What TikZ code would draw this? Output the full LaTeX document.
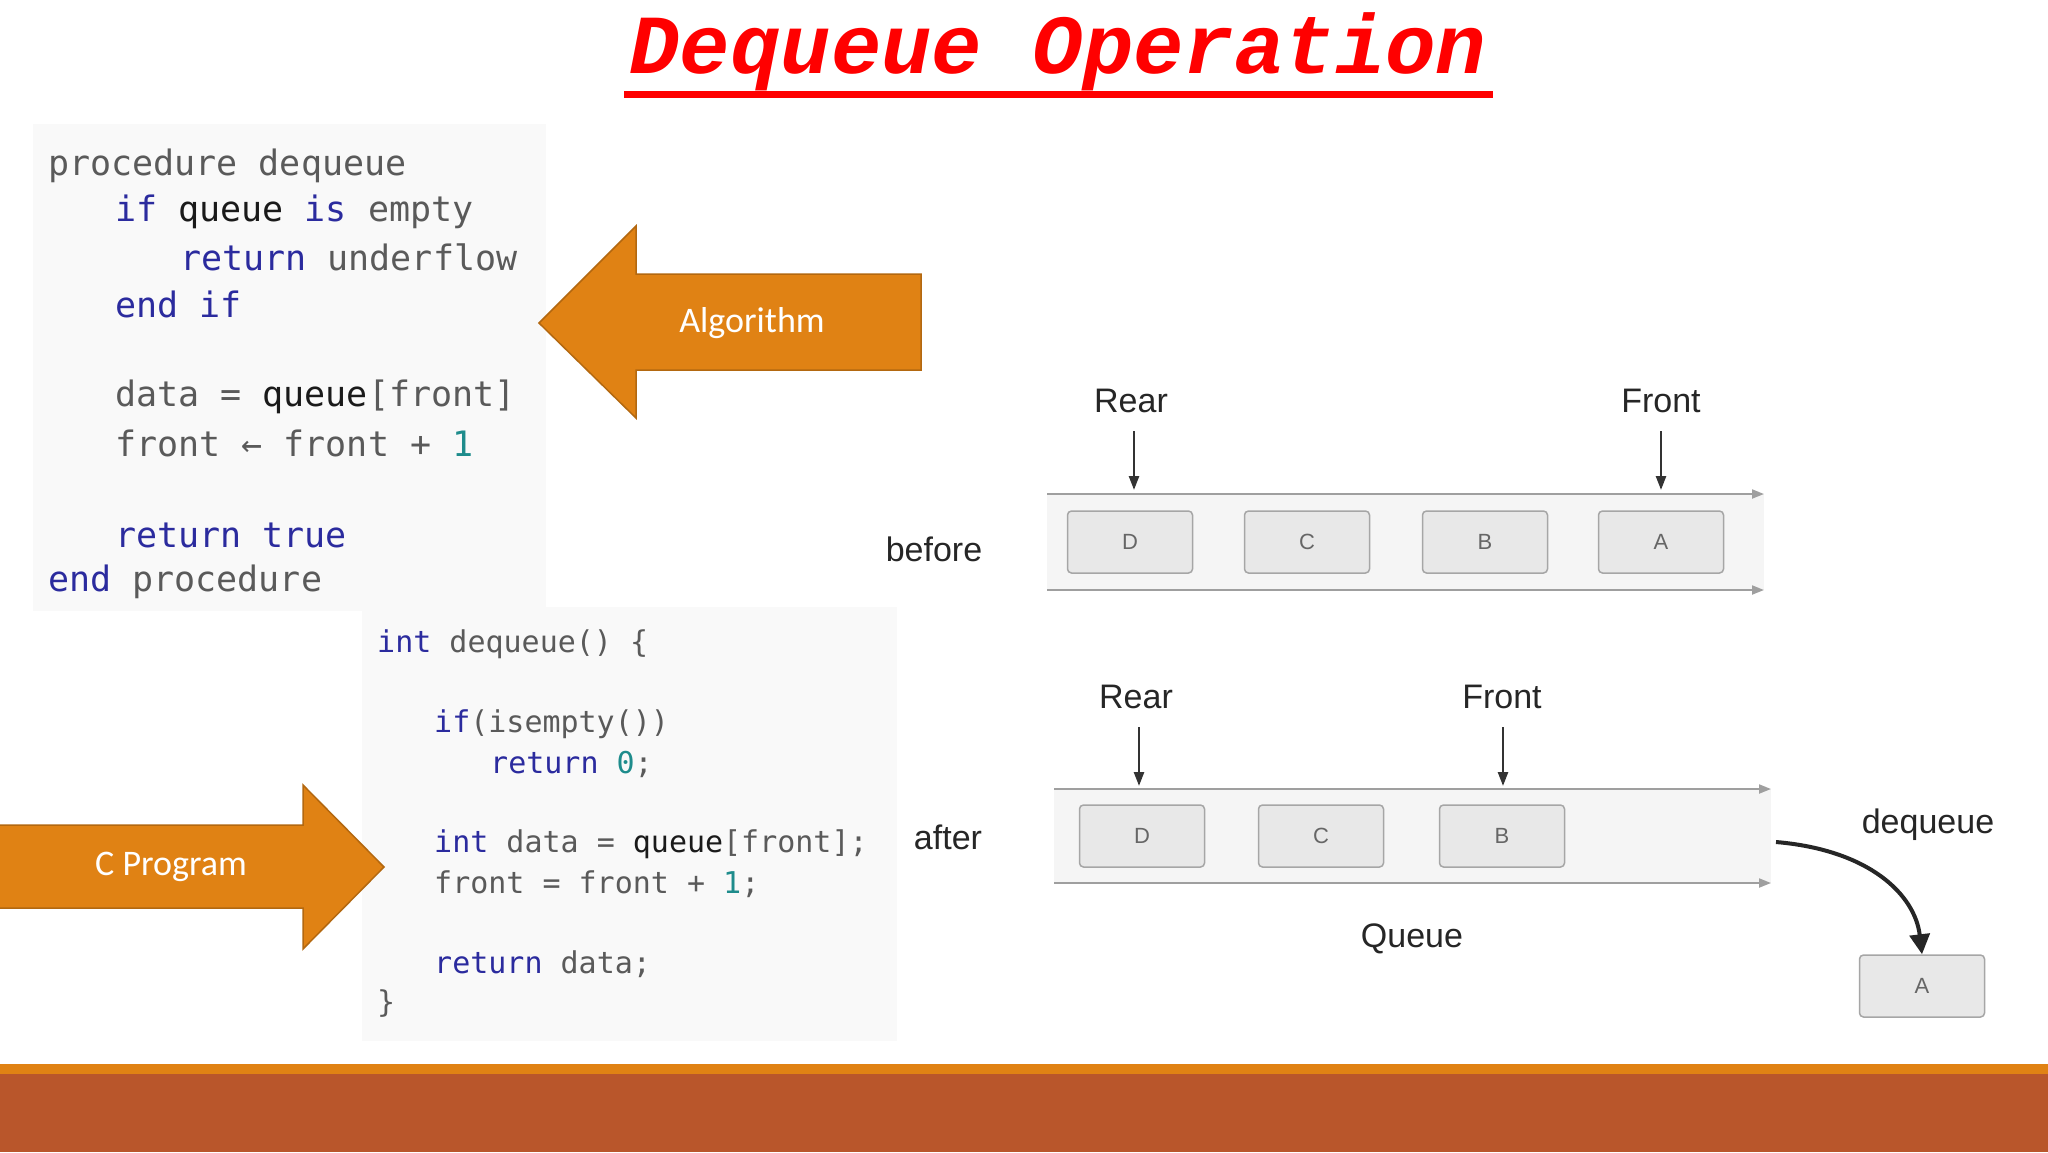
\documentclass[tikz,border=0pt]{standalone}
\usepackage{fontspec}
\setmainfont{Liberation Sans}
\setmonofont{DejaVu Sans Mono}
\newfontfamily\calib{Carlito}
\newfontfamily\titlefont{Liberation Mono}
\usetikzlibrary{arrows.meta}
\definecolor{kw}{HTML}{2B2B9E}
\definecolor{idc}{HTML}{5A5A5A}
\definecolor{nm}{HTML}{1E8C8C}
\definecolor{bk}{HTML}{1A1A1A}
\definecolor{orng}{HTML}{E08214}
\definecolor{brn}{HTML}{B9562B}
\definecolor{panel}{HTML}{F9F9F9}
\tikzset{
 codeA/.style={anchor=west,inner sep=0,font=\fontsize{35}{35}\selectfont\ttfamily,text=idc},
 codeB/.style={anchor=west,inner sep=0,font=\fontsize{30}{30}\selectfont\ttfamily,text=idc},
 bigarrow/.style={fill=orng,draw=orng!80!black,line width=1.5pt},
 arrtext/.style={text=white,font=\calib\fontsize{36}{36}\selectfont},
 qbox/.style={draw=gray!70,fill=gray!18,rounded corners=4pt,line width=1.5pt,minimum width=125pt,minimum height=62pt,font=\fontsize{22}{22}\selectfont,text=gray!80!black},
 qline/.style={draw=gray!75,line width=2pt,-{Triangle[length=12pt,width=9pt]}},
 lbl/.style={font=\fontsize{34}{34}\selectfont,text=black!85},
 ptr/.style={draw=black!80,line width=2.5pt,-{Triangle[length=14pt,width=10pt]}}
}
\begin{document}
\begin{tikzpicture}[x=1pt,y=-1pt]
\useasboundingbox (0,0) rectangle (2048,1152);
\fill[white] (0,0) rectangle (2048,1152);
% title
\node[inner sep=0,text=red,font=\titlefont\bfseries\itshape\fontsize{84}{84}\selectfont] (title) at (1058,52) {Dequeue Operation};
\draw[red,line width=7pt] (624,94) -- (1493,94);
% bottom band
\fill[orng] (0,1064) rectangle (2048,1074);
\fill[brn] (0,1074) rectangle (2048,1152);
% panels
\fill[panel] (33,124) rectangle (546,611);
\fill[panel] (362,607) rectangle (897,1041);
% algorithm code
\node[codeA] (a1) at (48,166) {procedure dequeue};
\node[codeA] (a2) at (115,212) {\textcolor{kw}{if} \textcolor{bk}{queue} \textcolor{kw}{is} empty};
\node[codeA] (a3) at (180,257) {\textcolor{kw}{return} underflow};
\node[codeA] (a4) at (115,304) {\textcolor{kw}{end if}};
\node[codeA] (a5) at (115,397) {data = \textcolor{bk}{queue}[front]};
\node[codeA] (a6) at (115,443) {front ← front + \textcolor{nm}{1}};
\node[codeA] (a7) at (115,535) {\textcolor{kw}{return true}};
\node[codeA] (a8) at (48,582) {\textcolor{kw}{end} procedure};
% C code
\node[codeB] (c1) at (377,644) {\textcolor{kw}{int} dequeue() \{};
\node[codeB] (c2) at (434,724) {\textcolor{kw}{if}(isempty())};
\node[codeB] (c3) at (490,764) {\textcolor{kw}{return} \textcolor{nm}{0};};
\node[codeB] (c4) at (434,844) {\textcolor{kw}{int} data = \textcolor{bk}{queue}[front];};
\node[codeB] (c5) at (434,884) {front = front + \textcolor{nm}{1};};
\node[codeB] (c6) at (434,964) {\textcolor{kw}{return} data;};
\node[codeB] (c7) at (377,1004) {\}};
% big arrows
\draw[bigarrow] (539,323) -- (636,226) -- (636,274) -- (921,274) -- (921,370) -- (636,370) -- (636,418) -- cycle;
\node[arrtext] (alg) at (752,323) {Algorithm};
\draw[bigarrow] (-2,825) -- (303,825) -- (303,785) -- (384,867) -- (303,949) -- (303,908) -- (-2,908) -- cycle;
\node[arrtext] (cprog) at (171,867) {C Program};
% before queue
\fill[gray!8] (1047,494) rectangle (1764,590);
\coordinate (bt1) at (1047,494); \coordinate (bt2) at (1764,494);
\coordinate (bb1) at (1047,590); \coordinate (bb2) at (1764,590);
\draw[qline] (bt1) -- (bt2);
\draw[qline] (bb1) -- (bb2);
\node[qbox] (bD) at (1130,542) {D};
\node[qbox] (bC) at (1307,542) {C};
\node[qbox] (bB) at (1485,542) {B};
\node[qbox] (bA) at (1661,542) {A};
\node[lbl] (brear) at (1131,401) {Rear};
\node[lbl] (bfront) at (1661,401) {Front};
\draw[ptr] (1134,431) -- (1134,490);
\draw[ptr] (1661,431) -- (1661,490);
\node[lbl] (before) at (934,549) {before};
% after queue
\fill[gray!8] (1054,789) rectangle (1771,883);
\coordinate (at1) at (1054,789); \coordinate (at2) at (1771,789);
\coordinate (ab1) at (1054,883); \coordinate (ab2) at (1771,883);
\draw[qline] (at1) -- (at2);
\draw[qline] (ab1) -- (ab2);
\node[qbox] (aD) at (1142,836) {D};
\node[qbox] (aC) at (1321,836) {C};
\node[qbox] (aB) at (1502,836) {B};
\node[lbl] (arear) at (1136,697) {Rear};
\node[lbl] (afront) at (1502,697) {Front};
\draw[ptr] (1139,727) -- (1139,786);
\draw[ptr] (1503,727) -- (1503,786);
\node[lbl] (after) at (948,837) {after};
\node[lbl] (queue) at (1412,939) {Queue};
\node[lbl] (deq) at (1928,825) {dequeue};
\node[qbox] (outA) at (1922,986) {A};
\coordinate (cs) at (1776,842);
\draw[draw=black!85,line width=4pt,-{Triangle[length=20pt,width=20pt]}] (cs) .. controls (1870,850) and (1915,895) .. (outA.north);
\end{tikzpicture}
\end{document}
